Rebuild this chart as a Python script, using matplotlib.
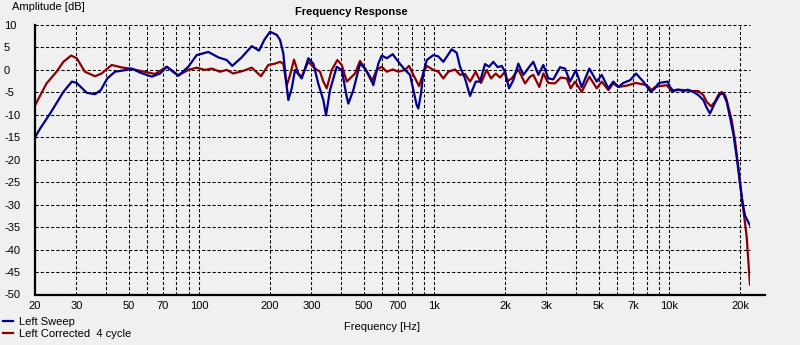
import matplotlib
matplotlib.use("Agg")
import matplotlib.pyplot as plt
from matplotlib.lines import Line2D

# Measured response, left channel (frequency in Hz, level in dB)
freq_sweep = [20, 21.0, 23.2, 26.4, 28.7, 30.1, 33.2, 36.0, 38.1, 40.6, 43.8, 49.1, 51.6,
              56.0, 62.8, 68.1, 72.7, 81.4, 89.8, 97.5, 109.3, 120.5, 130.9, 138.2, 151.6,
              167.2, 179.6, 189.2, 200, 213.6, 220.6, 227.8, 233.9, 239.3, 247.4, 255.5,
              272.9, 291.1, 305.7, 321.1, 337.2, 346.2, 360, 384.5, 403.8, 424.1, 430.8,
              452.4, 483.1, 507.4, 532.8, 550.3, 578, 597.6, 627.6, 665.6, 703.1, 750.8,
              788.5, 814.5, 842.1, 855.4, 878.3, 898.3, 928.8, 990.8, 1040.6, 1092.6,
              1186.4, 1246, 1286.9, 1351.5, 1419.4, 1501, 1565.5, 1644, 1710, 1783.6, 1862,
              1936.6, 2000, 2080, 2169, 2278.4, 2393, 2555, 2639, 2772, 2911, 3057, 3210,
              3428, 3600, 3782, 3999, 4240, 4568, 4912, 5158, 5503, 5779, 6069, 6374, 6806,
              7219, 7752, 8336, 8696, 8982, 9286, 9848, 10072, 10404, 10926, 11474, 11978,
              12654, 13286, 13952, 14424, 14898, 15646, 16432, 16972, 17548, 18124, 18722,
              19356, 19994, 20530, 20998, 21688, 22050]
db_sweep = [-15.0, -13.1, -9.7, -4.9, -2.6, -2.9, -5.1, -5.4, -4.5, -1.9, -0.4, 0.0, 0.3,
            -0.6, -1.5, -0.8, 0.7, -1.3, 0.7, 3.3, 4.0, 2.8, 2.2, 0.9, 2.8,
            5.3, 4.3, 6.7, 8.5, 7.8, 6.7, 3.7, -2.3, -6.7, -4.1, 0.0,
            -1.9, 2.6, 1.4, -3.1, -6.7, -10.1, -4.5, 0.7, 0.0, -6.0, -7.5,
            -4.5, 1.4, 0.3, -1.5, -3.4, 1.4, 3.2, 2.6, 3.5, 1.8, 0.0,
            -1.1, -4.5, -7.9, -8.6, -5.2, -0.7, 2.2, 3.3, 3.0, 1.8,
            4.6, 3.8, 0.7, -1.9, -5.8, -2.6, -2.6, 1.3, 0.7, 1.8, 0.6,
            0.9, -0.4, -4.1, -2.3, 1.4, -1.1, 0.9, 1.8, -1.1, 1.1, -1.9, -2.1,
            0.6, 0.3, -2.6, -0.1, -3.8, 0.3, -2.6, -1.1, -4.1, -2.6, -3.8, -2.9, -2.3,
            -0.8, -2.6, -4.9, -4.1, -3.0, -2.8, -2.6, -3.8, -4.7, -4.4, -4.7, -4.4,
            -4.9, -5.6, -6.7, -8.4, -9.7, -7.3, -5.4, -5.3, -7.1, -10.5, -14.2,
            -19.4, -25.3, -29.8, -32.4, -33.9, -34.6]

freq_corr = [20, 22.4, 24.7, 26.4, 28.5, 30.1, 32.6, 36.0, 38.4, 42.4, 46.8, 50.7, 56.0,
             64.8, 72.7, 81.4, 89.8, 97.5, 105.8, 113, 122.5, 130.9, 139.6, 154, 167.2,
             183.1, 196.7, 210, 220.6, 227.8, 235.6, 243.3, 253, 263.9, 272.9, 291.1,
             310.8, 326.4, 337.2, 348.6, 366.1, 386.8, 403.8, 424.1, 438, 460, 483.1,
             507.4, 541.8, 569, 597.6, 627.6, 665.6, 703.1, 750.8, 780.9, 814.5, 861.3,
             898.3, 928.8, 990.8, 1040.6, 1092.6, 1147.5, 1225.4, 1286.9, 1351.5, 1419.4,
             1501, 1580.9, 1671.8, 1743.7, 1825.9, 1904.4, 2000, 2033.6, 2135.6, 2278.4,
             2433, 2555, 2639, 2799, 2911, 3057, 3264, 3452, 3661, 3807, 3971, 4240, 4568,
             4912, 5158, 5503, 5779, 6069, 6590, 7219, 8016, 8418, 8696, 9130, 9750,
             10238, 10752, 11662, 12454, 13286, 13952, 14424, 15044, 15646, 16160, 16708,
             17258, 17548, 17826, 18430, 19036, 19662, 20330, 20854, 21350, 21688, 22050]
db_corr = [-7.9, -3.0, -0.4, 1.8, 3.2, 2.6, -0.4, -1.4, -0.8, 1.1, 0.55, 0.3, -0.2,
           -0.9, 0.7, -1.2, 0.0, 0.5, 0.0, 0.3, -0.4, 0.0, -0.8, -0.2, 0.5,
           -1.4, 1.1, 1.4, 1.8, 1.4, -3.4, -1.2, 2.3, -0.8, -1.5, 1.8,
           0.3, -0.4, -2.6, -4.1, 0.0, 2.2, 1.1, -2.6, -1.9, -0.8, 2.0,
           0.3, -2.6, 0.0, 0.7, -0.4, 0.1, -0.4, 0.0, 0.9, -1.1, -3.6,
           -0.7, 0.9, 0.0, -0.4, -1.9, -0.4, 0.1, -1.1, -0.9, -2.6,
           -0.4, -2.9, 0.0, -1.9, -0.8, -1.7, -0.4, -2.6, -1.9, 0.1,
           -3.0, -1.5, -1.1, -3.8, -0.8, -2.9, -3.0, -1.7, -1.9, -4.1, -2.6, -4.9, -1.5,
           -4.1, -2.6, -4.5, -3.0, -3.8, -3.5, -2.9, -3.4, -4.5, -3.8, -3.6, -3.4,
           -4.7, -4.4, -4.5, -4.7, -4.7, -5.6, -7.1, -8.1, -7.1, -5.6, -4.9,
           -5.6, -6.7, -8.2, -11.2, -15.7, -21.6, -28.3, -32.8, -37.2, -42.5, -47.8]

label_sweep = "Left Sweep"
label_corr = "Left Corrected  4 cycle"

major_freqs = [20, 30, 50, 70, 100, 200, 300, 500, 700, 1000, 2000, 3000, 5000, 7000,
               10000, 20000]
major_labels = ["20", "30", "50", "70", "100", "200", "300", "500", "700", "1k", "2k",
                "3k", "5k", "7k", "10k", "20k"]
minor_freqs = [40, 60, 80, 90, 400, 600, 800, 900, 4000, 6000, 8000, 9000]
db_ticks = list(range(-50, 11, 5))

BG = "#f0f0f0"
BLUE = "#00008b"
RED = "#8b0000"
FONT = "Liberation Sans"

W, H = 800, 345
fig = plt.figure(figsize=(W / 100, H / 100), dpi=100, facecolor=BG)
ax_left, ax_right, ax_top, ax_bottom = 35, 750, 25, 294.5
ax = fig.add_axes([ax_left / W, 1 - ax_bottom / H,
                   (ax_right - ax_left) / W, (ax_bottom - ax_top) / H])
ax.set_facecolor(BG)

line_corr, = ax.plot(freq_corr, db_corr, color=RED, lw=1.6, label=label_corr,
                     solid_joinstyle="round")
line_sweep, = ax.plot(freq_sweep, db_sweep, color=BLUE, lw=1.6, label=label_sweep,
                      solid_joinstyle="round")

ax.set_xscale("log")
ax.set_xlim(20, 22050)
ax.set_ylim(-50, 10)

ax.set_xticks(major_freqs)
ax.set_xticklabels(major_labels)
ax.set_xticks(minor_freqs, minor=True)
ax.set_xticklabels([], minor=True)
ax.set_yticks(db_ticks)
ax.set_yticklabels([str(v) for v in db_ticks])

ax.grid(True, which="both", axis="x", color="black", lw=0.75, linestyle=(0, (3, 2)))
ax.grid(True, which="major", axis="y", color="black", lw=0.75, linestyle=(0, (3, 2)))
for gl in ax.get_ygridlines() + ax.get_xgridlines():
    gl.set_clip_on(False)
ax.set_axisbelow(True)

ax.tick_params(axis="both", which="both", length=0, labelsize=8, colors="black")
ax.tick_params(axis="x", pad=5)
ax.tick_params(axis="y", pad=22.3)
for lab in ax.get_yticklabels():
    lab.set_horizontalalignment("left")
    lab.set_fontfamily(FONT)
for lab in ax.get_xticklabels():
    lab.set_fontfamily(FONT)

for side in ("top", "right", "bottom"):
    ax.spines[side].set_visible(False)
ax.spines["left"].set_linewidth(1.6)
ax.spines["left"].set_color("black")

# bottom axis line runs a little past the plotted range
fig.add_artist(Line2D([ax_left / W, 765 / W], [1 - ax_bottom / H] * 2,
                      transform=fig.transFigure, color="black", lw=1.6))

fig.text(12 / W, 1 - 7 / H, "Amplitude [dB]", fontsize=8, family=FONT,
         ha="left", va="center", color="black")
fig.text(351 / W, 1 - 12 / H, "Frequency Response", fontsize=8, family=FONT,
         fontweight="bold", ha="center", va="center", color="black")
fig.text(382 / W, 1 - 327 / H, "Frequency [Hz]", fontsize=8, family=FONT,
         ha="center", va="center", color="black")

fig.legend(handles=[line_sweep, line_corr], loc="upper left",
           bbox_to_anchor=(3 / W, 1 - 317 / H), frameon=False,
           prop={"family": FONT, "size": 8}, handlelength=0.9, handletextpad=0.5,
           labelspacing=0.15, borderpad=0, borderaxespad=0)

fig.savefig("out.png", dpi=100, facecolor=BG)
